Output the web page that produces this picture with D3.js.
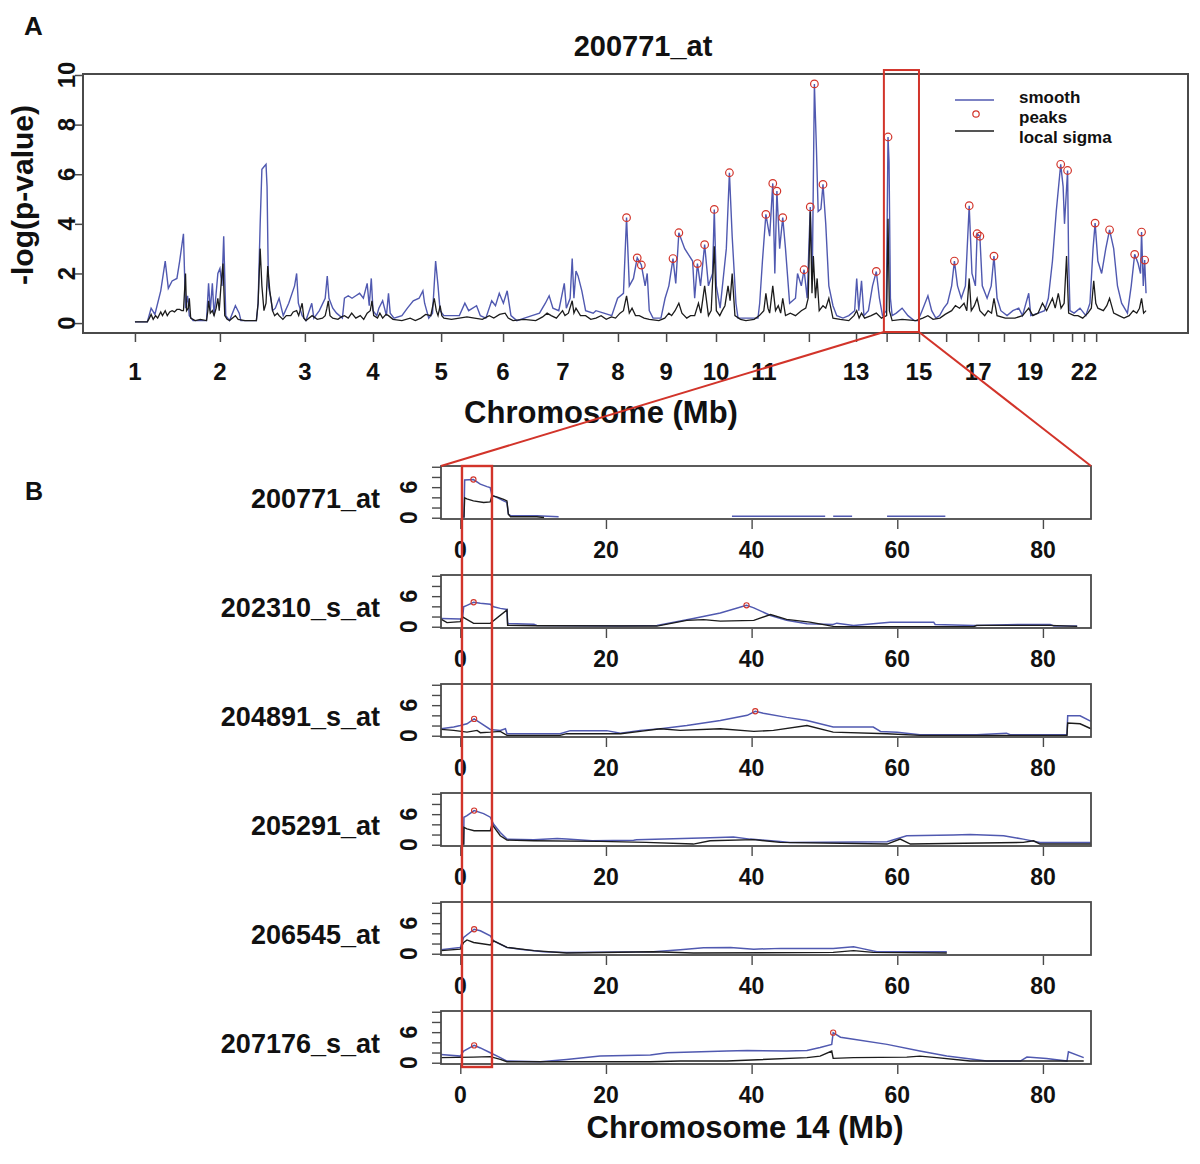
<!DOCTYPE html>
<html>
<head>
<meta charset="utf-8">
<script src="https://cdn.jsdelivr.net/npm/d3@7"></script>
<style>
  body { margin: 0; background: #fff; }
  svg { display: block; }
  text { font-family: "Liberation Sans", Arial, sans-serif; font-weight: bold; fill: #111; }
</style>
</head>
<body>
<script>
// ---- panel A : genome wide scan, x in cumulative Mb ----
const chromLabels = ["1","2","3","4","5","6","7","8","9","10","11","12","13","14","15","16","17","18","19","20","21","22","23"];
const chromStart  = [0,247,494,692,890,1070,1244,1404,1544,1689,1828,1959,2096,2185,2279,2358,2451,2526,2602,2669,2724,2759,2794];
const shownLabels = ["1","2","3","4","5","6","7","8","9","10","11","13","15","17","19","22"];
const zoomRegion  = [2177, 2279];   // chromosome 14 window

const smoothA = [
  [0,0.05],[19,0.05],[36,0.05],[47,0.6],[58,0.35],[75,1.3],[88,2.5],[97,1.4],[108,1.7],[122,1.8],[130,2.5],[141,3.6],
  [147,0.6],[153,1.1],[158,0.3],[169,0.1],[208,0.1],[214,1.6],[219,0.5],[225,1.6],[230,0.3],[236,1.2],[241,2.0],[247,2.2],
  [253,1.5],[258,3.5],[264,0.3],[275,0.1],[292,0.7],[303,0.4],[308,0.1],[353,0.1],[358,0.8],[364,4.0],[369,6.2],[375,6.3],
  [381,6.4],[384,5.5],[388,1.5],[395,1.0],[400,0.5],[408,0.6],[419,1.0],[431,0.3],[447,0.8],[464,1.5],[470,2.0],[475,0.8],
  [486,0.3],[497,0.1],[514,0.8],[520,0.2],[536,0.5],[553,1.0],[559,1.9],[564,1.0],[575,0.6],[586,0.4],[603,0.2],[609,1.0],
  [620,1.1],[631,1.0],[642,1.1],[653,1.2],[664,1.0],[675,1.6],[681,0.7],[687,1.8],[692,0.5],[703,0.3],[709,0.6],[720,0.9],
  [731,0.3],[737,1.2],[742,0.4],[753,0.2],[776,0.3],[792,0.6],[809,0.9],[826,1.0],[837,1.3],[842,0.8],[854,0.2],[865,0.4],
  [874,2.5],[881,1.5],[887,0.5],[898,0.3],[915,0.3],[926,0.3],[943,0.3],[959,0.8],[970,0.5],[993,0.7],[1004,0.3],[1020,0.2],
  [1037,0.9],[1048,0.7],[1059,1.2],[1071,0.8],[1082,1.3],[1093,0.3],[1110,0.1],[1132,0.2],[1154,0.3],[1176,0.4],[1193,0.8],
  [1204,1.1],[1215,0.6],[1232,0.5],[1248,1.6],[1254,0.6],[1265,1.0],[1271,2.6],[1276,1.0],[1282,2.1],[1288,1.9],[1299,1.3],
  [1310,0.5],[1332,0.4],[1340,0.5],[1363,0.4],[1386,0.3],[1403,1.0],[1420,1.2],[1429,4.25],[1437,1.5],[1449,1.8],[1460,2.63],
  [1472,2.34],[1483,1.5],[1489,2.0],[1495,0.5],[1506,0.2],[1529,0.2],[1541,1.0],[1552,1.5],[1564,2.6],[1572,1.6],[1581,3.64],
  [1598,3.0],[1621,2.5],[1627,1.0],[1635,2.4],[1644,1.5],[1656,3.16],[1667,1.5],[1679,2.0],[1684,4.58],[1690,1.5],[1701,0.6],
  [1719,3.0],[1728,6.06],[1736,3.5],[1747,0.8],[1753,0.2],[1788,0.2],[1811,0.2],[1816,0.8],[1824,2.5],[1834,4.38],[1845,3.5],
  [1854,5.63],[1860,2.0],[1866,5.32],[1874,3.0],[1883,4.25],[1891,3.0],[1903,0.8],[1920,1.0],[1926,2.0],[1937,1.5],[1945,2.15],
  [1954,1.0],[1963,4.68],[1969,2.0],[1975,9.64],[1981,7.0],[1986,4.5],[1994,4.6],[2000,5.59],[2008,4.0],[2017,1.5],[2029,0.7],
  [2040,0.3],[2058,0.2],[2075,0.3],[2092,0.5],[2098,1.8],[2104,0.5],[2112,1.7],[2119,0.3],[2132,0.5],[2144,1.5],[2155,2.08],
  [2164,1.0],[2173,0.3],[2184,0.5],[2189,7.5],[2192,6.5],[2196,1.0],[2201,0.3],[2213,0.4],[2230,0.6],[2247,0.3],[2265,0.1],
  [2276,0.1],[2288,0.5],[2305,1.1],[2316,0.5],[2328,0.2],[2339,0.3],[2351,0.6],[2362,0.8],[2374,1.5],[2382,2.5],[2391,1.5],
  [2402,1.0],[2414,1.5],[2425,4.73],[2433,2.0],[2443,1.5],[2448,3.6],[2456,3.5],[2463,1.5],[2477,1.0],[2489,1.5],[2497,2.7],
  [2506,1.0],[2517,0.5],[2535,0.3],[2552,0.5],[2569,0.6],[2580,0.3],[2598,1.2],[2604,0.3],[2626,0.4],[2644,0.5],[2655,1.0],
  [2667,2.5],[2678,4.5],[2691,6.4],[2698,5.5],[2702,4.0],[2711,6.15],[2714,2.5],[2718,0.5],[2730,0.4],[2747,0.6],[2764,0.3],
  [2776,0.8],[2785,3.0],[2791,4.03],[2799,2.5],[2810,2.0],[2822,3.0],[2833,3.76],[2845,3.0],[2856,1.5],[2868,0.8],[2885,0.4],
  [2896,1.5],[2906,2.77],[2916,2.4],[2923,2.0],[2926,3.67],[2931,1.5],[2935,2.54],[2939,1.2]
];

const sigmaA = [
  [0,0.05],[36,0.05],[42,0.2],[47,0.35],[53,0.15],[60,0.3],[66,0.2],[75,0.45],[80,0.3],[88,0.5],[94,0.3],[101,0.45],
  [108,0.5],[115,0.45],[122,0.55],[130,0.55],[136,0.5],[141,0.5],[147,2.0],[150,0.5],[155,0.6],[158,1.0],[162,0.2],[175,0.1],
  [190,0.15],[208,0.1],[212,0.5],[214,0.9],[219,0.4],[225,0.5],[230,0.3],[236,0.6],[241,1.0],[245,0.5],[250,1.5],[256,2.4],
  [261,0.3],[268,0.15],[275,0.1],[292,0.3],[300,0.15],[320,0.1],[353,0.1],[358,0.8],[364,3.0],[369,1.5],[375,0.5],[381,0.8],
  [386,2.3],[392,1.3],[400,0.5],[406,0.3],[414,0.4],[419,0.3],[430,0.15],[440,0.3],[453,0.3],[460,0.45],[470,0.5],[476,0.3],
  [486,0.8],[491,0.2],[497,0.1],[515,0.3],[530,0.15],[545,0.2],[553,0.3],[558,0.6],[562,0.9],[567,0.3],[575,0.2],[590,0.15],
  [600,0.25],[609,0.3],[620,0.2],[630,0.4],[642,0.2],[655,0.3],[665,0.15],[675,0.4],[684,0.5],[689,0.9],[694,0.3],[705,0.2],
  [712,0.4],[720,0.2],[730,0.35],[737,0.3],[750,0.15],[776,0.1],[800,0.2],[815,0.1],[831,0.2],[845,0.35],[860,0.3],[870,1.0],
  [876,0.5],[881,0.3],[887,0.7],[892,0.3],[898,0.2],[920,0.15],[943,0.2],[965,0.25],[987,0.2],[1010,0.15],[1030,0.3],
  [1043,0.2],[1060,0.35],[1076,0.4],[1085,0.2],[1099,0.1],[1130,0.15],[1165,0.1],[1185,0.25],[1198,0.4],[1210,0.3],
  [1225,0.2],[1243,0.5],[1250,0.3],[1260,0.4],[1271,0.9],[1276,0.4],[1282,0.6],[1295,0.3],[1310,0.3],[1325,0.15],
  [1340,0.2],[1355,0.3],[1370,0.15],[1385,0.25],[1397,0.2],[1410,0.4],[1420,0.5],[1429,1.1],[1437,0.4],[1445,0.6],
  [1455,0.3],[1466,0.3],[1480,0.2],[1495,0.15],[1523,0.1],[1540,0.2],[1552,0.4],[1560,0.3],[1570,0.5],[1581,0.8],
  [1590,0.4],[1604,0.2],[1615,0.3],[1627,0.3],[1638,0.8],[1645,0.4],[1656,1.5],[1667,0.3],[1675,0.5],[1684,3.1],
  [1690,0.5],[1700,0.3],[1707,0.5],[1715,0.7],[1724,1.5],[1730,0.9],[1736,2.0],[1744,0.3],[1760,0.15],[1776,0.1],
  [1800,0.15],[1815,0.3],[1828,0.5],[1834,1.2],[1840,0.6],[1845,0.4],[1854,1.5],[1862,0.5],[1870,0.7],[1877,0.4],
  [1883,1.0],[1891,0.3],[1905,0.4],[1920,0.3],[1937,0.5],[1950,0.6],[1957,1.0],[1963,4.5],[1968,1.2],[1972,2.7],
  [1978,1.0],[1983,1.8],[1989,0.5],[2000,0.7],[2008,0.6],[2017,1.0],[2029,0.2],[2050,0.15],[2075,0.1],[2090,0.3],
  [2098,0.5],[2105,0.2],[2112,0.4],[2121,0.2],[2140,0.3],[2155,0.4],[2170,0.2],[2185,0.3],[2189,4.2],[2193,0.5],
  [2201,0.1],[2230,0.15],[2270,0.1],[2290,0.2],[2305,0.3],[2320,0.15],[2340,0.2],[2355,0.35],[2374,0.5],[2385,0.7],
  [2397,0.6],[2410,0.8],[2418,0.5],[2425,1.8],[2431,0.5],[2440,0.7],[2448,1.0],[2456,0.5],[2470,0.3],[2480,0.5],
  [2490,0.4],[2497,1.0],[2506,0.3],[2530,0.2],[2558,0.2],[2580,0.3],[2598,0.6],[2610,0.3],[2625,0.4],[2638,0.8],
  [2650,0.5],[2667,1.0],[2675,0.6],[2684,1.2],[2692,0.6],[2701,0.8],[2708,2.7],[2714,0.4],[2730,0.3],[2741,0.3],
  [2755,0.2],[2770,0.4],[2780,0.6],[2787,1.7],[2793,0.8],[2799,0.6],[2815,0.5],[2825,0.7],[2833,1.0],[2845,0.4],
  [2860,0.3],[2875,0.2],[2890,0.3],[2902,0.5],[2912,0.4],[2920,0.6],[2926,1.0],[2932,0.4],[2939,0.5]
];

const peaksA = [
  [1429,4.25],[1460,2.63],[1472,2.34],[1564,2.6],[1581,3.64],[1635,2.4],[1656,3.16],[1684,4.58],[1728,6.06],[1834,4.38],
  [1854,5.63],[1866,5.32],[1883,4.25],[1945,2.15],[1963,4.68],[1975,9.64],[2000,5.59],[2155,2.08],[2189,7.5],[2382,2.5],
  [2425,4.73],[2448,3.6],[2456,3.5],[2497,2.7],[2691,6.4],[2711,6.15],[2791,4.03],[2833,3.76],[2906,2.77],[2926,3.67],[2935,2.54]
];

// ---- panel B : chromosome 14, x in Mb ----
const probes = ["200771_at","202310_s_at","204891_s_at","205291_at","206545_at","207176_s_at"];
const highlightMb = [0.23, 4.35];

const smoothB = [
  [[0.5,0],[0.6,7.4],[1.8,7.5],[2.75,6.6],[3.66,6.1],[4.1,5.9],[4.35,4.4],[5.0,4.0],[5.95,3.3],[6.4,3.0],[6.6,0.7],[6.9,0.4],
   [10.5,0.4],[13.5,0.2],null,[37.3,0.3],[50.1,0.3],null,[51.2,0.3],[53.8,0.3],null,[58.6,0.3],[66.6,0.3]],
  [[-2.65,1.6],[0.0,1.5],[0.3,1.5],[0.46,3.9],[0.92,4.2],[1.83,4.8],[2.75,4.6],[4.12,4.4],[4.58,3.9],[5.49,3.6],[6.41,3.4],
   [6.5,0.65],[10.1,0.5],[10.5,0.26],[22.0,0.15],[27.0,0.25],[32.0,1.6],[35.7,2.7],[39.3,4.2],[40.3,3.7],[42.6,2.2],
   [44.8,1.25],[47.6,0.6],[51.2,0.45],[51.7,0.7],[54.0,0.25],[59.0,0.9],[65.0,0.9],[65.2,0.45],[70.5,0.25],[77.3,0.45],
   [81.0,0.45],[81.5,0.15],[84.7,0.15]],
  [[-2.65,1.37],[-0.9,1.7],[0,2.0],[0.92,2.35],[1.9,3.3],[2.75,2.5],[4.12,1.24],[5.49,1.05],[6.2,1.37],[6.41,0.4],[13.7,0.4],
   [15.1,1.0],[20.1,1.0],[22.0,0.5],[24.7,1.05],[27.5,1.37],[31.1,2.0],[35.7,3.0],[39.4,4.0],[40.5,4.8],[41.6,4.4],[44.8,3.6],
   [47.6,3.0],[51.2,1.7],[56.7,1.7],[57.7,0.85],[60.0,0.7],[63.1,0.2],[70.9,0.2],[75.0,0.5],[75.5,0.2],[83.3,0.2],[83.4,3.9],
   [85.1,3.9],[86.6,2.8]],
  [[0.46,0],[0.5,5.4],[0.92,5.7],[1.9,6.7],[3.2,6.1],[4.12,5.4],[4.58,4.0],[5.49,2.4],[6.41,1.1],[10.1,1.0],[13.3,1.24],
   [14.6,1.1],[18.1,0.78],[23.8,0.9],[24.2,0.98],[34.3,1.37],[37.5,1.5],[39.8,1.1],[43.9,0.65],[45.3,0.46],[58.6,0.6],
   [61.3,1.76],[67.7,1.9],[70.0,2.0],[74.6,1.76],[77.3,1.1],[79.6,0.46],[86.6,0.46]],
  [[-2.65,0.78],[0,1.24],[0.46,3.2],[1.9,4.8],[2.75,4.5],[4.12,3.5],[4.58,2.5],[6.41,1.24],[8.2,0.9],[11.4,0.4],[14.6,0.26],
   [26.5,0.4],[30.2,0.78],[33.4,1.18],[37.1,1.24],[40.3,0.9],[44.0,1.05],[51.2,1.05],[54.0,1.37],[54.9,1.1],[57.2,0.4],[66.8,0.4]],
  [[-2.65,1.63],[0,1.3],[0.46,2.3],[1.9,3.4],[2.75,2.9],[4.12,1.96],[5.49,1.0],[6.41,0.33],[11.0,0.2],[14.6,0.65],[19.2,1.3],
   [26.1,1.5],[28.4,1.96],[36.6,2.3],[39.4,2.4],[44.8,2.3],[47.6,2.4],[49.4,3.0],[51.0,3.6],[51.2,5.9],[52.2,5.0],[54.0,4.6],
   [58.6,3.6],[63.1,2.3],[66.8,1.3],[72.3,0.33],[76.9,0.33],[77.8,1.1],[80.5,0.85],[83.3,0.33],[83.5,2.15],[85.6,1.0]]
];

const sigmaB = [
  [[0.5,0],[0.6,3.9],[0.9,3.7],[1.8,3.3],[3.2,3.0],[4.1,3.1],[4.35,4.3],[5.0,4.1],[5.95,3.6],[6.4,3.3],[6.6,0.7],[6.9,0.2],
   [10.5,0.2],[11.5,0.05]],
  [[-2.65,1.5],[-1.83,0.8],[0.0,1.0],[0.23,2.0],[1.83,0.65],[4.12,0.65],[6.41,3.3],[6.5,0.3],[10.5,0.2],[27.0,0.13],
   [31.1,1.25],[33.4,1.4],[35.7,1.1],[40.3,1.25],[42.6,2.4],[44.8,1.45],[48.0,0.9],[51.2,0.07],[54.0,0.0],[70.5,0.0],
   [70.9,0.26],[81.0,0.26],[84.7,0.07]],
  [[-2.65,1.24],[-0.9,1.05],[0.92,0.7],[2.3,1.05],[2.75,0.6],[4.12,0.7],[5.49,0.85],[6.41,0.07],[13.7,0.07],[14.6,0.4],
   [22.0,0.4],[24.7,0.85],[27.5,1.37],[30.2,1.05],[35.7,1.37],[40.3,0.85],[43.0,1.05],[47.6,2.0],[51.2,0.7],[58.6,0.4],
   [63.1,0.07],[83.3,0.07],[83.4,2.5],[85.1,2.35],[86.6,1.37]],
  [[0.46,0],[0.5,3.4],[0.92,3.1],[1.9,2.75],[4.12,2.75],[4.35,4.0],[5.49,1.76],[6.41,0.9],[10.1,0.78],[19.2,0.65],[25.5,0.46],
   [32.0,0.13],[34.3,0.78],[40.3,1.0],[43.9,0.46],[58.6,0.13],[60.4,1.1],[61.8,0.13],[77.3,0.46],[78.7,0.78],[79.6,0.13],[86.6,0.13]],
  [[-2.65,0.6],[0,0.9],[0.46,2.2],[0.92,2.7],[1.83,2.2],[4.12,1.7],[4.58,2.5],[6.41,1.24],[10.1,0.6],[14.6,0.13],[26.5,0.4],
   [32.0,0.13],[51.2,0.26],[54.0,0.6],[56.7,0.26],[66.8,0.13]],
  [[-2.65,1.0],[1.8,1.1],[4.12,1.2],[5.49,0.65],[6.41,0.2],[26.1,0.2],[30.2,0.33],[36.6,0.33],[47.6,1.0],[49.4,1.3],[51.0,2.3],
   [51.2,0.85],[54.0,1.0],[61.3,1.1],[63.1,1.3],[65.4,1.0],[70.0,0.33],[85.6,0.33]]
];

const peaksB = [
  [[1.8,7.5]],
  [[1.83,4.8],[39.3,4.2]],
  [[1.9,3.3],[40.5,4.8]],
  [[1.9,6.7]],
  [[1.9,4.8]],
  [[1.9,3.4],[51.2,5.9]]
];

const BLUE = "#5059b0", BLACK = "#1c1c1c", RED = "#d2342a", FRAME = "#4a4a4a";

const width = 1200, height = 1164;
const svg = d3.select("body").append("svg")
    .attr("width", width)
    .attr("height", height);

// ---------- panel A ----------
const x = d3.scaleLinear().domain([-151, 3061]).range([83, 1188]);
const y = d3.scaleLinear().domain([-0.4, 10.04]).range([333, 74]);

const lineA = d3.line().x(d => x(d[0])).y(d => y(d[1]));

svg.append("text").attr("x", 24).attr("y", 35).attr("font-size", 26).text("A");
svg.append("text").attr("x", 643).attr("y", 56).attr("text-anchor", "middle")
    .attr("font-size", 29).text("200771_at");

svg.append("path").datum(smoothA)
    .attr("fill", "none").attr("stroke", BLUE).attr("stroke-width", 1.4)
    .attr("d", lineA);
svg.append("path").datum(sigmaA)
    .attr("fill", "none").attr("stroke", BLACK).attr("stroke-width", 1.3)
    .attr("d", lineA);

svg.append("g").selectAll("circle")
    .data(peaksA)
    .join("circle")
      .attr("cx", d => x(d[0]))
      .attr("cy", d => y(d[1]))
      .attr("r", 3.8)
      .attr("fill", "none")
      .attr("stroke", RED)
      .attr("stroke-width", 1.2);

svg.append("rect")
    .attr("x", x.range()[0]).attr("y", y.range()[1])
    .attr("width", x.range()[1] - x.range()[0])
    .attr("height", y.range()[0] - y.range()[1])
    .attr("fill", "none").attr("stroke", FRAME).attr("stroke-width", 2);

const yAxisA = svg.append("g")
    .attr("transform", `translate(${x.range()[0]},0)`)
    .call(d3.axisLeft(y).tickValues([0, 2, 4, 6, 8, 10]).tickSize(8).tickFormat(""));
yAxisA.select(".domain").remove();
yAxisA.selectAll("line").attr("stroke", FRAME).attr("stroke-width", 1.5);

svg.append("g").selectAll("text")
    .data([0, 2, 4, 6, 8, 10])
    .join("text")
      .attr("transform", d => `translate(75,${y(d)}) rotate(-90)`)
      .attr("text-anchor", "middle")
      .attr("font-size", 24)
      .text(d => d);

svg.append("text")
    .attr("transform", "translate(33,195) rotate(-90)")
    .attr("text-anchor", "middle")
    .attr("font-size", 30)
    .text("-log(p-value)");

const xAxisA = svg.append("g")
    .attr("transform", `translate(0,${y.range()[0]})`)
    .call(d3.axisBottom(x).tickValues(chromStart).tickSize(9).tickFormat(""));
xAxisA.select(".domain").remove();
xAxisA.selectAll("line").attr("stroke", FRAME).attr("stroke-width", 1.5);

svg.append("g").selectAll("text")
    .data(chromStart.filter((s, i) => shownLabels.includes(chromLabels[i])))
    .join("text")
      .attr("x", d => x(d))
      .attr("y", 380)
      .attr("text-anchor", "middle")
      .attr("font-size", 24)
      .text(d => chromLabels[chromStart.indexOf(d)]);

svg.append("text").attr("x", 601).attr("y", 423).attr("text-anchor", "middle")
    .attr("font-size", 31).text("Chromosome (Mb)");

// legend
const legend = svg.append("g");
legend.append("line").attr("x1", 955).attr("x2", 994).attr("y1", 100).attr("y2", 100)
    .attr("stroke", BLUE).attr("stroke-width", 1.6);
legend.append("circle").attr("cx", 976).attr("cy", 114).attr("r", 3.2)
    .attr("fill", "none").attr("stroke", RED).attr("stroke-width", 1.2);
legend.append("line").attr("x1", 955).attr("x2", 994).attr("y1", 131).attr("y2", 131)
    .attr("stroke", BLACK).attr("stroke-width", 1.6);
legend.selectAll("text")
    .data(["smooth", "peaks", "local sigma"])
    .join("text")
      .attr("x", 1019)
      .attr("y", (d, i) => 103 + i * 20)
      .attr("font-size", 17)
      .text(d => d);

// red zoom window on panel A
svg.append("rect")
    .attr("x", x(zoomRegion[0])).attr("y", y(10.2))
    .attr("width", x(zoomRegion[1]) - x(zoomRegion[0]))
    .attr("height", y(-0.36) - y(10.2))
    .attr("fill", "none").attr("stroke", RED).attr("stroke-width", 2);

// ---------- panel B ----------
const xs = d3.scaleLinear().domain([-2.65, 86.6]).range([441, 1091]);
const rowTop = i => 466 + i * 109;
const rowH = 53;

svg.append("text").attr("x", 25).attr("y", 500).attr("font-size", 25).text("B");

probes.forEach((name, i) => {
  const top = rowTop(i), bottom = top + rowH;
  const ys = d3.scaleLinear().domain([-0.25, 10.15]).range([bottom, top]);
  const line = d3.line().defined(d => d !== null).x(d => xs(d[0])).y(d => ys(d[1]));
  const g = svg.append("g");

  g.append("text")
      .attr("x", 380).attr("y", (top + bottom) / 2 + 15)
      .attr("text-anchor", "end")
      .attr("font-size", 27)
      .text(name);

  g.append("path").datum(smoothB[i])
      .attr("fill", "none").attr("stroke", BLUE).attr("stroke-width", 1.5)
      .attr("d", line);
  g.append("path").datum(sigmaB[i])
      .attr("fill", "none").attr("stroke", BLACK).attr("stroke-width", 1.4)
      .attr("d", line);

  g.selectAll("circle")
    .data(peaksB[i])
    .join("circle")
      .attr("cx", d => xs(d[0]))
      .attr("cy", d => ys(d[1]))
      .attr("r", 2.6)
      .attr("fill", "none")
      .attr("stroke", RED)
      .attr("stroke-width", 1.1);

  g.append("rect")
      .attr("x", xs.range()[0]).attr("y", top)
      .attr("width", xs.range()[1] - xs.range()[0])
      .attr("height", rowH)
      .attr("fill", "none").attr("stroke", FRAME).attr("stroke-width", 1.8);

  const ya = g.append("g")
      .attr("transform", `translate(${xs.range()[0]},0)`)
      .call(d3.axisLeft(ys).tickValues([0, 2, 4, 6, 8, 10]).tickSize(9).tickFormat(""));
  ya.select(".domain").remove();
  ya.selectAll("line").attr("stroke", FRAME).attr("stroke-width", 1.4);

  g.selectAll(".ylab")
    .data([0, 6])
    .join("text")
      .attr("class", "ylab")
      .attr("transform", d => `translate(417,${ys(d)}) rotate(-90)`)
      .attr("text-anchor", "middle")
      .attr("font-size", 23)
      .text(d => d);

  const xa = g.append("g")
      .attr("transform", `translate(0,${bottom + 1})`)
      .call(d3.axisBottom(xs).tickValues([0, 20, 40, 60, 80]).tickSize(9).tickFormat(""));
  xa.select(".domain").remove();
  xa.selectAll("line").attr("stroke", FRAME).attr("stroke-width", 1.4);

  g.selectAll(".xlab")
    .data([0, 20, 40, 60, 80])
    .join("text")
      .attr("class", "xlab")
      .attr("x", d => xs(d))
      .attr("y", bottom + 39)
      .attr("text-anchor", "middle")
      .attr("font-size", 23)
      .text(d => d);
});

svg.append("text").attr("x", 745).attr("y", 1138).attr("text-anchor", "middle")
    .attr("font-size", 31).text("Chromosome 14 (Mb)");

// red window carried down to panel B
const lastBottom = rowTop(probes.length - 1) + rowH;
svg.append("rect")
    .attr("x", xs(highlightMb[0])).attr("y", rowTop(0))
    .attr("width", xs(highlightMb[1]) - xs(highlightMb[0]))
    .attr("height", lastBottom + 3 - rowTop(0))
    .attr("fill", "none").attr("stroke", RED).attr("stroke-width", 2.4);

svg.append("g").selectAll("line")
    .data([[zoomRegion[0], xs.range()[0]], [zoomRegion[1], xs.range()[1]]])
    .join("line")
      .attr("x1", d => x(d[0])).attr("y1", y(-0.36))
      .attr("x2", d => d[1]).attr("y2", rowTop(0))
      .attr("stroke", RED).attr("stroke-width", 2);
</script>
</body>
</html>
